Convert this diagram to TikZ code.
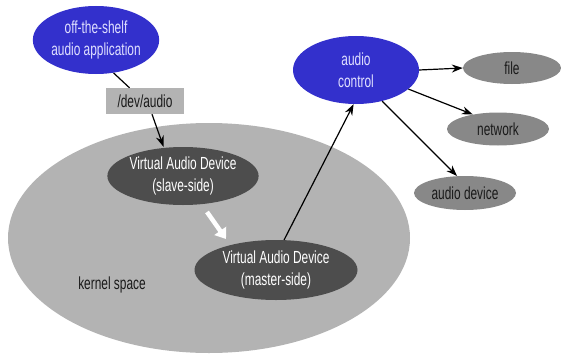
\documentclass[tikz,border=0pt]{standalone}
\usepackage{fontspec}
\setmainfont[FakeStretch=0.68]{Liberation Sans}
\usetikzlibrary{shapes.geometric,arrows.meta}
\definecolor{blu}{HTML}{3330CC}
\definecolor{blutext}{HTML}{E0E0FF}
\definecolor{dk}{HTML}{4D4D4D}
\definecolor{kern}{HTML}{B3B3B3}
\definecolor{outg}{HTML}{888888}
\definecolor{txt}{HTML}{1A1A1A}
\tikzset{
  lbl/.style={font=\fontsize{17.5}{22}\selectfont},
  bluenode/.style={ellipse, fill=blu, text=blutext, inner sep=0pt, align=center, lbl},
  darknode/.style={ellipse, fill=dk, text=white, inner sep=0pt, align=center, lbl},
  outnode/.style={ellipse, fill=outg, text=txt, inner sep=0pt, lbl},
  conn/.style={-{Stealth[length=11pt,width=8pt]}, line width=1.2pt, black},
}
\begin{document}
\begin{tikzpicture}[x=1pt,y=-1pt]
\useasboundingbox (0,0) rectangle (561,353);
\node[ellipse, fill=kern, minimum width=402pt, minimum height=230pt, inner sep=0pt] (kernel) at (209,238) {};
\node[lbl, text=txt] (klabel) at (112,285) {kernel space};
\node[bluenode, minimum width=126pt, minimum height=68pt] (app) at (96,40) {off-the-shelf\\audio application};
\node[fill=kern, text=txt, minimum width=78pt, minimum height=26pt, inner sep=0pt, lbl] (dev) at (145,101) {/dev/audio};
\node[darknode, minimum width=150pt, minimum height=58pt] (slave) at (183,176) {Virtual Audio Device\\(slave-side)};
\node[darknode, minimum width=163pt, minimum height=60pt] (master) at (276,270) {Virtual Audio Device\\(master-side)};
\node[bluenode, minimum width=126pt, minimum height=68pt] (ctrl) at (356,70) {audio\\control};
\node[outnode, minimum width=98pt, minimum height=32pt] (file) at (512,68) {file};
\node[outnode, minimum width=102pt, minimum height=33pt] (net) at (498,129) {network};
\node[outnode, minimum width=102pt, minimum height=34pt] (adev) at (465,193) {audio device};
\draw[line width=1.2pt] (app.-62) -- (dev.north -| 129.5,0);
\draw[conn] (dev.south -| 152,0) -- (slave.north -| 163.5,0);
\draw[conn] (master.75) -- (ctrl.-94);
\draw[conn] (ctrl.east) -- (file.west);
\draw[conn] (ctrl.-20) -- (net.150);
\draw[conn] (ctrl.-50) -- (adev.115);
\coordinate (wa) at (207,212);
\coordinate (wb) at (226,239);
\draw[-{Triangle[length=10pt,width=14pt]}, line width=4.5pt, white] (wa) -- (wb);
\end{tikzpicture}
\end{document}
